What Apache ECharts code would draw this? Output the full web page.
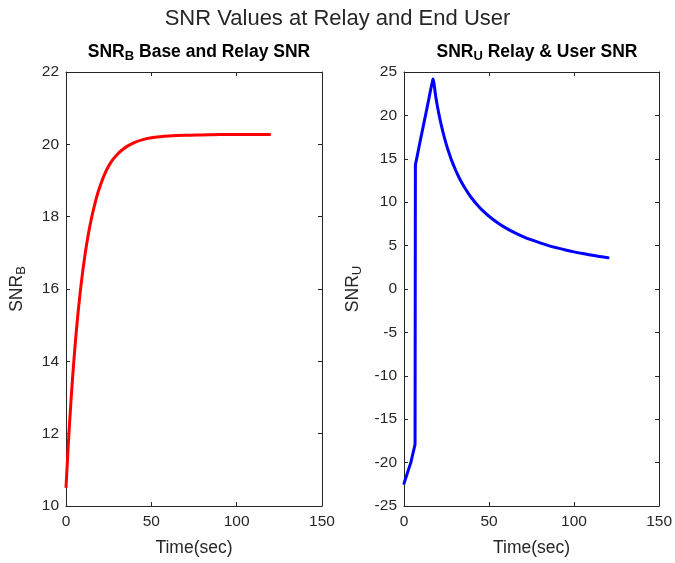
<!DOCTYPE html>
<html>
<head>
<meta charset="utf-8">
<script src="https://cdn.jsdelivr.net/npm/echarts@6/dist/echarts.min.js"></script>
<style>html,body{margin:0;padding:0;background:#fff}#c{width:675px;height:563px}</style>
</head>
<body>
<div id="c"></div>
<script>
// Left subplot: SNR_B (base-relay)
var tB = [0, 1, 2, 3, 4, 5, 6, 7, 8, 9, 10, 11, 12, 13, 14, 15, 16, 17, 18, 19, 20, 22, 24, 26, 28, 30, 33, 36, 40, 45, 50, 55, 60, 70, 80, 90, 100, 110, 120];
var snrB = [10.50, 11.40, 12.22, 12.96, 13.64, 14.25, 14.81, 15.31, 15.77, 16.18, 16.56, 16.90, 17.21, 17.49, 17.74, 17.97, 18.18, 18.37, 18.55, 18.71, 18.85, 19.10, 19.31, 19.48, 19.61, 19.72, 19.85, 19.95, 20.05, 20.13, 20.18, 20.21, 20.23, 20.25, 20.26, 20.27, 20.27, 20.27, 20.27];
// Right subplot: SNR_U (relay-user) - before the jump
var tU1 = [0, 2, 4, 6.5, 6.7];
var snrU1 = [-22.4, -21.2, -20.0, -17.9, 14.3];
// Right subplot: SNR_U after the jump
var tU2 = [6.7, 8, 10, 12, 14, 15.5, 16.5, 17.1, 17.7, 18.5, 19, 20, 21, 22, 23, 24, 25, 26, 27, 28, 30, 32, 34, 36, 38, 40, 43, 46, 50, 55, 60, 65, 70, 75, 80, 85, 90, 95, 100, 105, 110, 115, 120];
var snrU2 = [14.3, 15.55, 17.5, 19.4, 21.3, 22.8, 23.7, 24.2, 23.6, 22.4, 21.76, 20.68, 19.70, 18.82, 18.01, 17.26, 16.58, 15.95, 15.37, 14.82, 13.85, 12.99, 12.24, 11.57, 10.97, 10.43, 9.71, 9.09, 8.38, 7.63, 7.01, 6.49, 6.04, 5.65, 5.31, 5.00, 4.74, 4.50, 4.28, 4.08, 3.91, 3.75, 3.60];
var xTicks = {min: 0, max: 150, interval: 50};
var yTicksB = {min: 10, max: 22, interval: 2};
var yTicksU = {min: -25, max: 25, interval: 5};

function pairs(xs, ys) { return xs.map(function (x, i) { return [x, ys[i]]; }); }

var axisCol = '#262626';
var FONT = '"Liberation Sans Narrow", "Liberation Sans", Arial, Helvetica, sans-serif';
var lbl = {color: axisCol, fontSize: 15.5, fontFamily: FONT};

function xAx(grid, pos, showLbl) {
  return {
    type: 'value', gridIndex: grid, position: pos, min: xTicks.min, max: xTicks.max, interval: xTicks.interval,
    axisLine: {show: true, onZero: false, lineStyle: {color: axisCol, width: 1}},
    axisTick: {show: true, inside: true, length: 4, lineStyle: {color: axisCol}},
    axisLabel: showLbl ? Object.assign({margin: 8}, lbl) : {show: false},
    splitLine: {show: false},
    name: showLbl ? 'Time(sec)' : '', nameLocation: 'middle', nameGap: 33,
    nameTextStyle: {color: axisCol, fontSize: 17.5, fontFamily: FONT}
  };
}
function yAx(grid, pos, t, showLbl, sub) {
  return {
    type: 'value', gridIndex: grid, position: pos, min: t.min, max: t.max, interval: t.interval,
    axisLine: {show: true, onZero: false, lineStyle: {color: axisCol, width: 1}},
    axisTick: {show: true, inside: true, length: 4, lineStyle: {color: axisCol}},
    axisLabel: showLbl ? Object.assign({margin: 7}, lbl) : {show: false},
    splitLine: {show: false},
    name: showLbl ? '{a|SNR}{b|' + sub + '}' : '', nameLocation: 'middle', nameGap: sub === 'B' ? 38 : 40, nameRotate: 90,
    nameTextStyle: {
      color: axisCol, fontFamily: FONT,
      rich: {
        a: {fontSize: 17.5, color: axisCol, fontFamily: FONT},
        b: {fontSize: 13, color: axisCol, fontFamily: FONT, verticalAlign: 'bottom', padding: [9, 0, 0, 0]}
      }
    }
  };
}

var chart = echarts.init(document.getElementById('c'), null, {renderer: 'canvas'});
var titleRich = {
  a: {fontSize: 17.5, fontWeight: 'bold', color: '#000', fontFamily: FONT},
  b: {fontSize: 13, fontWeight: 'bold', color: '#000', fontFamily: FONT, verticalAlign: 'bottom', padding: [9, 0, 0, 0]}
};
var blue = {color: '#0000ff', width: 3, join: 'round', cap: 'round'};
chart.setOption({
  backgroundColor: '#fff',
  animation: false,
  title: [
    {text: 'SNR Values at Relay and End User', left: 'center', top: 3,
     textStyle: {fontSize: 22, fontWeight: 'normal', color: '#262626', fontFamily: FONT}},
    {text: '{a|SNR}{b|B}{a| Base and Relay SNR}', left: 194, top: 36, textAlign: 'center',
     textStyle: {rich: titleRich}},
    {text: '{a|SNR}{b|U}{a| Relay & User SNR}', left: 532, top: 36, textAlign: 'center',
     textStyle: {rich: titleRich}}
  ],
  grid: [
    {left: 66, right: 353, top: 72, bottom: 57},
    {left: 404, right: 14, top: 72, bottom: 57}
  ],
  xAxis: [xAx(0, 'bottom', true), xAx(0, 'top', false), xAx(1, 'bottom', true), xAx(1, 'top', false)],
  yAxis: [yAx(0, 'left', yTicksB, true, 'B'), yAx(0, 'right', yTicksB, false), yAx(1, 'left', yTicksU, true, 'U'), yAx(1, 'right', yTicksU, false)],
  series: [
    {type: 'line', xAxisIndex: 0, yAxisIndex: 0, data: pairs(tB, snrB), showSymbol: false, smooth: 0.3,
     lineStyle: {color: '#ff0000', width: 3}, itemStyle: {color: '#ff0000'}},
    {type: 'line', xAxisIndex: 2, yAxisIndex: 2, data: pairs(tU1, snrU1), showSymbol: false, smooth: false,
     lineStyle: blue, itemStyle: {color: '#0000ff'}},
    {type: 'line', xAxisIndex: 2, yAxisIndex: 2, data: pairs(tU2, snrU2), showSymbol: false, smooth: 0.3,
     lineStyle: blue, itemStyle: {color: '#0000ff'}}
  ]
});
</script>
</body>
</html>
